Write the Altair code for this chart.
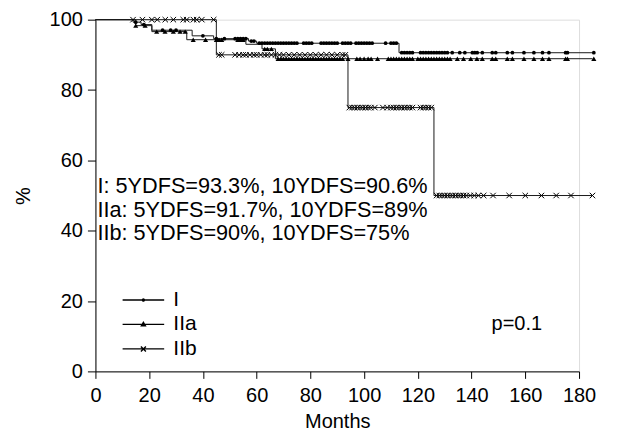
import altair as alt
import pandas as pd

groups = ["I", "IIa", "IIb"]

# Kaplan-Meier steps: time (months) at which survival (%) changes to the value
i_step_t = [0, 14, 17, 21, 36, 44, 57, 60, 113]
i_step_s = [100, 99.3, 98.6, 97.0, 95.4, 94.6, 93.9, 93.3, 90.6]
iia_step_t = [0, 15, 21, 34, 56, 62, 67]
iia_step_s = [100, 98.3, 96.6, 94.3, 93.0, 91.7, 88.9]
iib_step_t = [0, 45, 94, 126]
iib_step_s = [100, 90, 75, 50]
follow_end = 185

# censored observations (months)
i_cens = [15, 18, 25, 28, 30, 40, 45, 48, 52, 53, 54, 55, 56, 58, 59, 61, 62, 63, 64, 65,
          66, 67, 68, 69, 70, 71, 72, 73, 74, 75, 77.5, 78.5, 79.5, 80.5, 84, 85, 86, 87,
          88, 89, 90, 92, 93, 94, 95, 97, 98, 99, 100, 101, 102, 103, 108, 110, 111, 112,
          114, 115, 116, 117, 118, 121, 122, 123, 124, 125, 126, 127, 128, 129, 130, 131,
          132.8, 135.6, 137.5, 140.3, 141.2, 142.1, 144, 147.7, 149, 153.3, 155.2, 159.5,
          163.2, 166.4, 168.8, 175, 175.7, 185.5]
iia_cens = [15, 18.5, 22.8, 25.9, 29, 31.5, 33.4, 36.4, 41, 45, 46, 47, 53, 54, 55, 63, 64,
            65.5, 68, 69, 70, 71, 72, 73, 74, 75, 76, 77, 78, 79, 80, 81, 82, 83, 84, 85, 86,
            87, 88, 89, 90, 91, 92, 94, 97.3, 98.5, 100, 101.5, 102.6, 105, 109, 110, 111,
            112, 113, 114, 115, 116, 117, 118, 120, 121, 122, 123, 124, 125, 126, 127, 128,
            129, 130, 131, 132, 134.7, 137, 139.7, 142, 144, 147.7, 149, 153.3, 155.2, 159.5,
            163.2, 166.4, 168.8, 175, 175.7, 185.5]
iib_cens = [14, 17.5, 21, 23, 26, 29, 32.7, 34, 36.5, 37.7, 39.6, 44, 46, 47, 52, 53.5, 55,
            56, 57.5, 59, 60, 61.5, 63, 64, 65.5, 67, 68.5, 70, 72, 74, 76, 78, 80, 82, 84,
            86, 88, 90, 92, 93, 94.5, 95.5, 96.5, 97.5, 98.5, 99.5, 100.5, 101.5, 102.5, 104,
            107, 108.6, 110, 111, 112, 113, 114, 115, 116, 117, 118, 121, 122, 123, 124, 125,
            127, 128, 129, 130, 131, 132, 133, 134, 135, 136, 137, 138, 139.5, 141, 142.5,
            144.5, 148, 154, 160, 166, 171.5, 177, 185]

notes = ["I: 5YDFS=93.3%, 10YDFS=90.6%",
         "IIa: 5YDFS=91.7%, 10YDFS=89%",
         "IIb: 5YDFS=90%, 10YDFS=75%"]
p_text = "p=0.1"
x_ticks = [0, 20, 40, 60, 80, 100, 120, 140, 160, 180]
y_ticks = [0, 20, 40, 60, 80, 100]

steps = {"I": (i_step_t, i_step_s), "IIa": (iia_step_t, iia_step_s), "IIb": (iib_step_t, iib_step_s)}
cens = {"I": i_cens, "IIa": iia_cens, "IIb": iib_cens}


def surv_at(g, t):
    ts, ss = steps[g]
    val = ss[0]
    for tt, s in zip(ts, ss):
        if tt <= t:
            val = s
    return val


line_rows = []
for g in groups:
    ts, ss = steps[g]
    for k, (t, s) in enumerate(zip(ts, ss)):
        line_rows.append({"group": g, "t": t, "s": s, "o": k})
    line_rows.append({"group": g, "t": follow_end, "s": ss[-1], "o": len(ts)})
lines_df = pd.DataFrame(line_rows)

cens_rows = []
for g in groups:
    for t in cens[g]:
        cens_rows.append({"group": g, "t": t, "s": surv_at(g, t)})
cens_df = pd.DataFrame(cens_rows)

FONT = "Liberation Sans"
xscale = alt.Scale(domain=[0, 180], nice=False, zero=False)
yscale = alt.Scale(domain=[0, 100], nice=False)

xaxis = alt.Axis(values=x_ticks, tickSize=7, labelPadding=7, labelFontSize=20, labelFont=FONT,
                 labelFlush=False, labelColor="black", domainColor="black", tickColor="black",
                 grid=False, title="Months", titleFont=FONT, titleFontSize=20,
                 titleFontWeight="normal", titleColor="black", titleX=242, titleY=50,
                 titleBaseline="middle")
yaxis = alt.Axis(values=y_ticks, tickSize=8, labelPadding=5, labelFontSize=20, labelFont=FONT,
                 labelFlush=False, labelColor="black", domainColor="black", tickColor="black",
                 grid=False, title="%", titleFont=FONT, titleFontSize=20,
                 titleFontWeight="normal", titleColor="black", titleX=-72, titleY=176,
                 titleBaseline="middle", titleAlign="center")

X = alt.X("t:Q", scale=xscale, axis=xaxis)
Y = alt.Y("s:Q", scale=yscale, axis=yaxis)

lines = alt.Chart(lines_df).mark_line(interpolate="step-after", color="#1a1a1a",
                                      strokeWidth=1).encode(
    x=X, y=Y, detail="group:N", order="o:Q")

base_c = alt.Chart(cens_df)
pts_i = base_c.transform_filter(alt.datum.group == "I").mark_point(
    shape="circle", filled=True, size=14, color="black", opacity=1).encode(x=X, y=Y)
pts_iia = base_c.transform_filter(alt.datum.group == "IIa").mark_point(
    shape="triangle-up", filled=True, size=26, color="black", opacity=1).encode(x=X, y=Y)
pts_iib = base_c.transform_filter(alt.datum.group == "IIb").mark_point(
    shape="M-1,-1L1,1M-1,1L1,-1", filled=False, size=30, strokeWidth=1, color="black",
    opacity=1).encode(x=X, y=Y)

legend_paths = [
    "M-2.08,0H2.08M-0.1,0A0.1,0.1,0,1,1,0.1,0A0.1,0.1,0,1,1,-0.1,0Z",
    "M-2.08,0H2.08M-0.2,0.14L0.2,0.14L0,-0.2Z",
    "M-2.08,0H2.08M-0.25,-0.25L0.25,0.25M-0.25,0.25L0.25,-0.25",
]
legend_layer = base_c.transform_filter("false").mark_point(
    filled=False, color="black", strokeWidth=1.4, opacity=1).encode(
    x=X, y=Y,
    shape=alt.Shape("group:N", scale=alt.Scale(domain=groups, range=legend_paths),
                    legend=alt.Legend(title=None, orient="none", legendX=37, legendY=269.5,
                                      symbolSize=400, symbolStrokeColor="black",
                                      symbolStrokeWidth=1.4, symbolOpacity=1,
                                      labelFont=FONT, labelFontSize=21,
                                      labelColor="black", labelOffset=19, rowPadding=3.5,
                                      padding=0)))

note_layers = []
for k, txt in enumerate(notes):
    note_layers.append(
        alt.Chart(pd.DataFrame({"txt": [txt]})).mark_text(
            align="left", baseline="alphabetic", font=FONT, fontSize=21.7, color="black").encode(
            text="txt:N", x=alt.value(2), y=alt.value(173 + 24 * k)))

p_layer = alt.Chart(pd.DataFrame({"txt": [p_text]})).mark_text(
    align="left", baseline="alphabetic", font=FONT, fontSize=20, color="black").encode(
    text="txt:N", x=alt.value(396.5), y=alt.value(310.5))

chart = alt.layer(lines, pts_i, pts_iia, pts_iib, legend_layer, *note_layers, p_layer).properties(
    width=484, height=352,
    padding={"left": 87.5, "top": 11.5, "right": 40, "bottom": 60},
    autosize=alt.AutoSizeParams(type="none"),
).configure_view(stroke=None).configure(background="white")

chart.save("out.html", embed_options={"renderer": "svg", "actions": False})
